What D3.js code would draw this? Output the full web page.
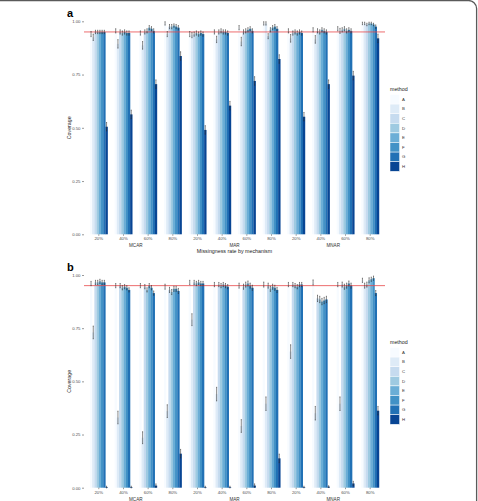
<!DOCTYPE html>
<html>
<head>
<meta charset="utf-8">
<script src="https://cdn.jsdelivr.net/npm/d3@7"></script>
<style>
  body { margin: 0; background: #fff; }
  svg { display: block; font-family: "Liberation Sans", Arial, sans-serif; }
</style>
</head>
<body>
<svg id="chart" width="478" height="501"></svg>
<script>
const mechanisms = ["MCAR", "MAR", "MNAR"];
const rates = ["20%", "40%", "60%", "80%"];
const methods = ["A", "B", "C", "D", "E", "F", "G", "H"];
const colors = ["#f7fbff", "#deebf7", "#c6dbef", "#9ecae1", "#6baed6", "#4292c6", "#2171b5", "#084594"];
const yTicks = [0, 0.25, 0.5, 0.75, 1];
const nominal = 0.95;

// panel a: coverage per group (rows = mechanism x rate, cols = methods A..H)
const coverageA = [
  [0.94, 0.925, 0.95, 0.95, 0.95, 0.95, 0.95, 0.505],
  [0.955, 0.894, 0.95, 0.945, 0.95, 0.945, 0.945, 0.563],
  [0.945, 0.887, 0.95, 0.955, 0.97, 0.965, 0.955, 0.705],
  [0.99, 0.94, 0.975, 0.975, 0.98, 0.975, 0.97, 0.837],
  [0.94, 0.935, 0.94, 0.945, 0.94, 0.945, 0.94, 0.49],
  [0.95, 0.915, 0.95, 0.955, 0.95, 0.95, 0.945, 0.604],
  [0.97, 0.905, 0.95, 0.955, 0.96, 0.965, 0.955, 0.72],
  [0.99, 0.99, 0.93, 0.96, 0.97, 0.975, 0.965, 0.823],
  [0.955, 0.92, 0.945, 0.95, 0.945, 0.95, 0.945, 0.552],
  [0.96, 0.915, 0.955, 0.95, 0.96, 0.955, 0.95, 0.705],
  [0.965, 0.955, 0.96, 0.965, 0.955, 0.96, 0.955, 0.745],
  [0.99, 0.99, 0.985, 0.99, 0.99, 0.985, 0.975, 0.92]
];
const errA = [
  [0.012, 0.015, 0.008, 0.008, 0.008, 0.008, 0.008, 0.02],
  [0.01, 0.02, 0.01, 0.01, 0.01, 0.01, 0.01, 0.02],
  [0.01, 0.018, 0.01, 0.01, 0.01, 0.01, 0.01, 0.02],
  [0.008, 0.012, 0.01, 0.01, 0.008, 0.01, 0.01, 0.02],
  [0.012, 0.012, 0.01, 0.01, 0.01, 0.01, 0.01, 0.02],
  [0.01, 0.015, 0.01, 0.01, 0.01, 0.01, 0.01, 0.02],
  [0.01, 0.02, 0.01, 0.01, 0.01, 0.01, 0.01, 0.02],
  [0.008, 0.008, 0.012, 0.01, 0.01, 0.01, 0.01, 0.02],
  [0.01, 0.018, 0.01, 0.01, 0.01, 0.01, 0.01, 0.02],
  [0.01, 0.018, 0.01, 0.01, 0.01, 0.01, 0.01, 0.02],
  [0.01, 0.012, 0.01, 0.01, 0.01, 0.01, 0.01, 0.02],
  [0.006, 0.006, 0.006, 0.006, 0.006, 0.006, 0.008, 0.02]
];

// panel b
const coverageB = [
  [0.96, 0.73, 0.965, 0.965, 0.97, 0.965, 0.965, 0.003],
  [0.95, 0.33, 0.95, 0.94, 0.945, 0.94, 0.93, 0.003],
  [0.95, 0.235, 0.945, 0.93, 0.95, 0.94, 0.915, 0.01],
  [0.945, 0.36, 0.93, 0.92, 0.935, 0.935, 0.925, 0.16],
  [0.965, 0.79, 0.965, 0.96, 0.965, 0.96, 0.96, 0.003],
  [0.955, 0.44, 0.955, 0.95, 0.955, 0.95, 0.945, 0.003],
  [0.95, 0.29, 0.945, 0.955, 0.96, 0.95, 0.94, 0.01],
  [0.955, 0.395, 0.95, 0.935, 0.945, 0.94, 0.93, 0.138],
  [0.955, 0.64, 0.955, 0.95, 0.945, 0.955, 0.955, 0.003],
  [0.965, 0.35, 0.89, 0.885, 0.875, 0.88, 0.885, 0.005],
  [0.955, 0.395, 0.955, 0.945, 0.95, 0.96, 0.95, 0.02],
  [0.975, 0.95, 0.955, 0.975, 0.98, 0.985, 0.915, 0.362]
];
const errB = [
  [0.01, 0.03, 0.01, 0.01, 0.01, 0.01, 0.01, 0.004],
  [0.01, 0.03, 0.01, 0.01, 0.01, 0.01, 0.01, 0.004],
  [0.01, 0.028, 0.01, 0.01, 0.01, 0.01, 0.01, 0.008],
  [0.012, 0.03, 0.012, 0.012, 0.012, 0.012, 0.012, 0.02],
  [0.01, 0.028, 0.01, 0.01, 0.01, 0.01, 0.01, 0.004],
  [0.01, 0.032, 0.01, 0.01, 0.01, 0.01, 0.01, 0.004],
  [0.012, 0.03, 0.012, 0.012, 0.012, 0.012, 0.012, 0.008],
  [0.012, 0.032, 0.012, 0.012, 0.012, 0.012, 0.012, 0.02],
  [0.01, 0.032, 0.01, 0.01, 0.01, 0.01, 0.01, 0.004],
  [0.012, 0.032, 0.015, 0.015, 0.015, 0.015, 0.015, 0.004],
  [0.01, 0.032, 0.012, 0.012, 0.012, 0.012, 0.012, 0.01],
  [0.01, 0.012, 0.012, 0.012, 0.01, 0.01, 0.012, 0.02]
];

const groups = mechanisms.flatMap(m => rates.map(r => m + " " + r));

const svg = d3.select("#chart");

// frame of the figure
svg.append("path")
   .attr("d", "M0,0.6 H468 A8,8 0 0 1 476.6,8.6 V501")
   .attr("fill", "none")
   .attr("stroke", "#5a5a5a")
   .attr("stroke-width", 1.3);

const x = d3.scalePoint().domain(groups).range([84, 385]).padding(0.6);
const inner = d3.scaleBand().domain(methods).range([-x.step() * 0.36, x.step() * 0.36]);
const fill = d3.scaleOrdinal().domain(methods).range(colors);

function drawPanel(opt) {
  const y = d3.scaleLinear().domain([0, 1]).range([opt.y0, opt.y1]);
  const g = svg.append("g");

  g.append("text")
   .attr("x", 67).attr("y", opt.y1 - 4)
   .attr("font-size", 11).attr("font-weight", "bold")
   .attr("font-family", "Liberation Sans, Arial, sans-serif")
   .text(opt.label);

  // y axis
  const yAxis = g.append("g")
    .attr("transform", "translate(84,0)")
    .call(d3.axisLeft(y).tickValues(yTicks).tickFormat(d3.format(".2f")).tickSize(2).tickPadding(1.5));
  yAxis.select(".domain").remove();
  yAxis.selectAll("line").attr("stroke", "#333").attr("stroke-width", 0.5);
  yAxis.selectAll("text").attr("font-size", 4.3).attr("fill", "#4d4d4d").attr("font-family", null);

  g.append("text")
   .attr("transform", `translate(71,${(opt.y0 + opt.y1) / 2}) rotate(-90)`)
   .attr("text-anchor", "middle")
   .attr("font-size", 5.3)
   .attr("fill", "#222")
   .text("Coverage");

  // bars
  const rows = groups.flatMap((grp, gi) => methods.map((m, mi) => ({
    grp, m, v: opt.values[gi][mi], e: opt.errs[gi][mi]
  })));

  g.append("g").selectAll("rect")
   .data(rows)
   .enter()
   .append("rect")
     .attr("x", d => x(d.grp) + inner(d.m))
     .attr("width", inner.bandwidth() + 0.15)
     .attr("y", d => y(d.v))
     .attr("height", d => y(0) - y(d.v))
     .attr("fill", d => fill(d.m));

  // nominal line
  g.append("line")
   .attr("x1", 84).attr("x2", 385)
   .attr("y1", y(nominal)).attr("y2", y(nominal))
   .attr("stroke", "#e8494a").attr("stroke-width", 0.8);

  // error bars
  const eb = g.append("g").selectAll("g")
    .data(rows)
    .enter()
    .append("g")
      .attr("transform", d => `translate(${x(d.grp) + inner(d.m) + inner.bandwidth() / 2},0)`)
      .attr("stroke", "#2b2b2b")
      .attr("stroke-width", 0.55);
  eb.append("line")
    .attr("y1", d => y(d.v - d.e)).attr("y2", d => y(Math.min(d.v + d.e, 1.01)));
  eb.append("line")
    .attr("x1", -0.5).attr("x2", 0.5)
    .attr("y1", d => y(d.v - d.e)).attr("y2", d => y(d.v - d.e));
  eb.append("line")
    .attr("x1", -0.5).attr("x2", 0.5)
    .attr("y1", d => y(Math.min(d.v + d.e, 1.01))).attr("y2", d => y(Math.min(d.v + d.e, 1.01)));

  // x axis: rate labels and mechanism labels
  const xa = g.append("g");
  xa.selectAll("line")
    .data(groups)
    .enter()
    .append("line")
      .attr("x1", d => x(d)).attr("x2", d => x(d))
      .attr("y1", opt.y0).attr("y2", opt.y0 + 1.5)
      .attr("stroke", "#333").attr("stroke-width", 0.5);
  xa.selectAll("text")
    .data(groups)
    .enter()
    .append("text")
      .attr("x", d => x(d))
      .attr("y", opt.y0 + 5.8)
      .attr("text-anchor", "middle")
      .attr("font-size", 4.3)
      .attr("fill", "#4d4d4d")
      .text(d => d.split(" ")[1]);

  g.selectAll(".mech")
   .data(mechanisms)
   .enter()
   .append("text")
     .attr("class", "mech")
     .attr("x", m => (x(m + " " + rates[1]) + x(m + " " + rates[2])) / 2)
     .attr("y", opt.y0 + 13)
     .attr("text-anchor", "middle")
     .attr("font-size", 4.6)
     .attr("fill", "#333")
     .text(m => m);

  if (opt.xTitle) {
    g.append("text")
     .attr("x", (84 + 385) / 2)
     .attr("y", opt.y0 + 19)
     .attr("text-anchor", "middle")
     .attr("font-size", 5.3)
     .attr("fill", "#222")
     .text(opt.xTitle);
  }

  // legend
  const lg = g.append("g").attr("transform", `translate(390,${opt.legendTop})`);
  lg.append("text")
    .attr("x", 0).attr("y", 0)
    .attr("font-size", 5.3).attr("fill", "#222")
    .text("method");
  const key = 9.6;
  const items = lg.selectAll(".key")
    .data(methods)
    .enter()
    .append("g")
      .attr("class", "key")
      .attr("transform", (d, i) => `translate(0,${4 + i * key})`);
  items.append("rect")
    .attr("width", key).attr("height", key)
    .attr("fill", d => fill(d))
    .attr("stroke", "#fff").attr("stroke-width", 0.5);
  items.append("text")
    .attr("x", key + 2.4).attr("y", key / 2 + 1.5)
    .attr("font-size", 4.3).attr("fill", "#333")
    .text(d => d);
}

drawPanel({ label: "a", y0: 234.3, y1: 21.3, values: coverageA, errs: errA,
            xTitle: "Missingness rate by mechanism", legendTop: 90.5 });
drawPanel({ label: "b", y0: 487.7, y1: 275, values: coverageB, errs: errB,
            xTitle: null, legendTop: 343.5 });
</script>
</body>
</html>
